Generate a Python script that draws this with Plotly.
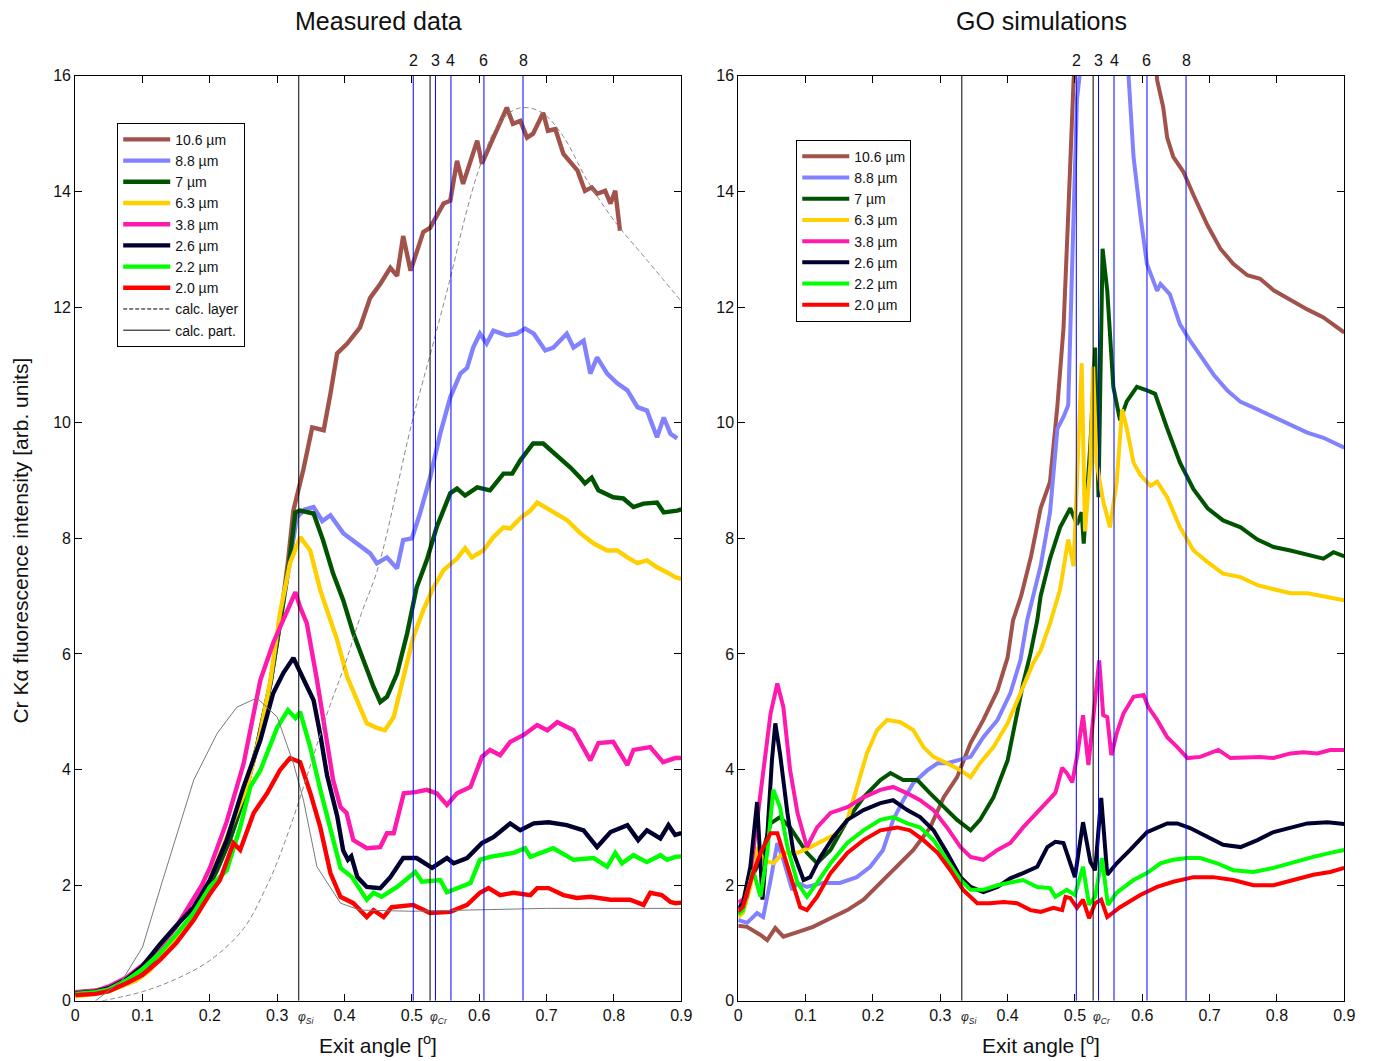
import plotly.graph_objects as go

# ---------------- data: measured (left panel) ----------------
brown_L_x = [0, 0.03, 0.05, 0.07, 0.09, 0.11, 0.13, 0.15, 0.17, 0.19, 0.21, 0.23, 0.25, 0.27, 0.29, 0.305, 0.316, 0.324, 0.339, 0.352, 0.369, 0.379, 0.389, 0.404, 0.423, 0.438, 0.453, 0.468, 0.478, 0.487, 0.498, 0.517, 0.527, 0.547, 0.557, 0.567, 0.576, 0.597, 0.604, 0.621, 0.641, 0.65, 0.661, 0.671, 0.68, 0.695, 0.702, 0.713, 0.725, 0.746, 0.757, 0.767, 0.775, 0.787, 0.795, 0.802, 0.809]
brown_L_y = [0.15, 0.18, 0.22, 0.33, 0.36, 0.58, 0.82, 1.1, 1.42, 1.8, 2.25, 2.8, 3.5, 4.4, 5.5, 6.6, 7.6, 8.48, 9.2, 9.92, 9.87, 10.5, 11.2, 11.37, 11.65, 12.16, 12.4, 12.68, 12.54, 13.23, 12.63, 13.3, 13.37, 13.79, 13.84, 14.53, 14.13, 14.88, 14.48, 14.93, 15.45, 15.17, 15.22, 14.93, 15.0, 15.36, 15.05, 15.08, 14.65, 14.36, 14.01, 14.07, 13.96, 14.01, 13.79, 14.01, 13.32]

lblue_L_x = [0, 0.03, 0.05, 0.07, 0.09, 0.11, 0.13, 0.15, 0.17, 0.19, 0.21, 0.23, 0.25, 0.27, 0.29, 0.305, 0.318, 0.329, 0.341, 0.354, 0.367, 0.379, 0.398, 0.418, 0.438, 0.448, 0.463, 0.478, 0.487, 0.5, 0.512, 0.527, 0.542, 0.557, 0.572, 0.582, 0.591, 0.601, 0.611, 0.621, 0.641, 0.656, 0.668, 0.681, 0.698, 0.71, 0.73, 0.74, 0.755, 0.765, 0.775, 0.79, 0.805, 0.82, 0.835, 0.849, 0.864, 0.874, 0.884, 0.894]
lblue_L_y = [0.13, 0.16, 0.2, 0.27, 0.36, 0.55, 0.8, 1.1, 1.42, 1.8, 2.25, 2.8, 3.5, 4.4, 5.5, 6.6, 7.6, 8.36, 8.5, 8.54, 8.3, 8.4, 8.09, 7.91, 7.74, 7.57, 7.67, 7.48, 7.97, 8.0, 8.43, 9.05, 9.81, 10.44, 10.85, 10.95, 11.3, 11.54, 11.37, 11.59, 11.51, 11.54, 11.63, 11.54, 11.25, 11.3, 11.54, 11.3, 11.42, 10.85, 11.13, 10.85, 10.68, 10.56, 10.27, 10.21, 9.75, 10.09, 9.81, 9.73]

dgreen_L_x = [0, 0.03, 0.05, 0.07, 0.09, 0.11, 0.13, 0.15, 0.17, 0.19, 0.21, 0.23, 0.25, 0.27, 0.29, 0.305, 0.318, 0.327, 0.334, 0.354, 0.368, 0.383, 0.398, 0.413, 0.428, 0.443, 0.453, 0.463, 0.478, 0.493, 0.507, 0.522, 0.537, 0.557, 0.567, 0.579, 0.597, 0.616, 0.636, 0.649, 0.661, 0.68, 0.695, 0.716, 0.735, 0.75, 0.757, 0.767, 0.777, 0.799, 0.814, 0.829, 0.844, 0.864, 0.874, 0.894, 0.9]
dgreen_L_y = [0.12, 0.15, 0.2, 0.27, 0.36, 0.55, 0.8, 1.1, 1.42, 1.8, 2.25, 2.8, 3.5, 4.4, 5.5, 6.6, 7.6, 8.45, 8.48, 8.43, 7.97, 7.39, 6.93, 6.36, 5.89, 5.43, 5.17, 5.26, 5.66, 6.36, 7.15, 7.62, 8.2, 8.78, 8.86, 8.74, 8.88, 8.83, 9.12, 9.12, 9.35, 9.64, 9.64, 9.43, 9.23, 9.05, 8.95, 9.05, 8.83, 8.71, 8.69, 8.54, 8.6, 8.62, 8.45, 8.48, 8.5]

yellow_L_x = [0, 0.03, 0.05, 0.07, 0.09, 0.11, 0.13, 0.15, 0.17, 0.19, 0.21, 0.225, 0.24, 0.255, 0.275, 0.29, 0.304, 0.319, 0.334, 0.349, 0.364, 0.379, 0.389, 0.404, 0.418, 0.433, 0.448, 0.46, 0.473, 0.488, 0.502, 0.517, 0.532, 0.547, 0.567, 0.579, 0.589, 0.606, 0.621, 0.636, 0.646, 0.661, 0.676, 0.686, 0.701, 0.716, 0.731, 0.75, 0.77, 0.79, 0.805, 0.82, 0.835, 0.849, 0.864, 0.879, 0.891, 0.9]
yellow_L_y = [0.08, 0.12, 0.17, 0.25, 0.35, 0.52, 0.78, 1.08, 1.4, 1.8, 2.4, 2.85, 3.3, 3.7, 4.63, 5.55, 6.7, 7.57, 8.02, 7.79, 7.1, 6.55, 6.24, 5.6, 5.2, 4.8, 4.72, 4.68, 4.91, 5.6, 6.29, 6.76, 7.15, 7.45, 7.65, 7.83, 7.67, 7.79, 8.02, 8.19, 8.17, 8.35, 8.48, 8.62, 8.52, 8.43, 8.31, 8.09, 7.91, 7.79, 7.79, 7.67, 7.57, 7.62, 7.5, 7.41, 7.33, 7.3]

pink_L_x = [0, 0.03, 0.05, 0.077, 0.1, 0.126, 0.15, 0.176, 0.188, 0.2, 0.225, 0.25, 0.275, 0.294, 0.314, 0.327, 0.334, 0.344, 0.359, 0.374, 0.383, 0.394, 0.403, 0.413, 0.433, 0.453, 0.463, 0.473, 0.488, 0.505, 0.522, 0.537, 0.552, 0.567, 0.587, 0.604, 0.616, 0.631, 0.646, 0.666, 0.686, 0.701, 0.716, 0.74, 0.765, 0.777, 0.799, 0.82, 0.829, 0.854, 0.873, 0.891, 0.9]
pink_L_y = [0.14, 0.17, 0.25, 0.41, 0.62, 0.93, 1.28, 1.75, 2.0, 2.3, 3.1, 4.1, 5.55, 6.19, 6.7, 7.07, 6.81, 6.53, 5.55, 4.39, 3.82, 3.35, 3.25, 2.78, 2.64, 2.66, 2.9, 2.9, 3.59, 3.61, 3.65, 3.59, 3.39, 3.59, 3.7, 4.22, 4.34, 4.25, 4.48, 4.6, 4.77, 4.68, 4.82, 4.68, 4.16, 4.46, 4.48, 4.08, 4.34, 4.39, 4.13, 4.2, 4.2]

navy_L_x = [0, 0.03, 0.05, 0.077, 0.1, 0.126, 0.15, 0.176, 0.2, 0.225, 0.25, 0.275, 0.294, 0.309, 0.324, 0.339, 0.354, 0.364, 0.374, 0.389, 0.398, 0.405, 0.41, 0.419, 0.433, 0.453, 0.468, 0.487, 0.507, 0.53, 0.552, 0.562, 0.582, 0.604, 0.621, 0.646, 0.661, 0.681, 0.703, 0.73, 0.755, 0.775, 0.795, 0.82, 0.836, 0.849, 0.869, 0.881, 0.891, 0.9]
navy_L_y = [0.13, 0.16, 0.22, 0.38, 0.6, 0.98, 1.3, 1.62, 2.09, 2.78, 3.7, 4.51, 5.32, 5.67, 5.93, 5.55, 5.2, 4.6, 3.9, 3.2, 2.6, 2.44, 2.5, 2.14, 1.97, 1.95, 2.14, 2.47, 2.47, 2.3, 2.47, 2.38, 2.47, 2.73, 2.83, 3.07, 2.95, 3.07, 3.09, 3.04, 2.95, 2.66, 2.92, 3.04, 2.78, 2.95, 2.81, 3.04, 2.87, 2.9]

lime_L_x = [0, 0.03, 0.05, 0.077, 0.1, 0.126, 0.15, 0.176, 0.2, 0.225, 0.245, 0.26, 0.275, 0.3, 0.316, 0.327, 0.334, 0.349, 0.364, 0.374, 0.394, 0.411, 0.433, 0.443, 0.455, 0.478, 0.505, 0.515, 0.542, 0.552, 0.587, 0.601, 0.616, 0.651, 0.668, 0.676, 0.71, 0.74, 0.77, 0.79, 0.802, 0.812, 0.829, 0.849, 0.869, 0.879, 0.891, 0.9]
lime_L_y = [0.12, 0.15, 0.2, 0.36, 0.55, 0.83, 1.15, 1.52, 1.97, 2.26, 3.0, 3.7, 3.99, 4.73, 5.03, 4.89, 5.0, 4.39, 3.65, 3.2, 2.3, 2.14, 1.75, 1.87, 1.8, 1.97, 2.23, 2.06, 2.09, 1.88, 2.04, 2.44, 2.49, 2.56, 2.64, 2.49, 2.64, 2.44, 2.47, 2.32, 2.56, 2.38, 2.52, 2.4, 2.52, 2.44, 2.49, 2.5]

red_L_x = [0, 0.03, 0.05, 0.077, 0.1, 0.126, 0.15, 0.176, 0.2, 0.215, 0.235, 0.245, 0.265, 0.285, 0.304, 0.319, 0.334, 0.349, 0.364, 0.379, 0.394, 0.413, 0.433, 0.443, 0.458, 0.47, 0.502, 0.527, 0.557, 0.582, 0.601, 0.614, 0.631, 0.651, 0.676, 0.686, 0.703, 0.725, 0.745, 0.765, 0.795, 0.824, 0.844, 0.854, 0.871, 0.884, 0.891, 0.9]
red_L_y = [0.1, 0.12, 0.17, 0.31, 0.45, 0.71, 1.0, 1.4, 1.85, 2.09, 2.73, 2.61, 3.25, 3.59, 3.99, 4.2, 4.13, 3.6, 3.0, 2.21, 1.8, 1.69, 1.45, 1.57, 1.45, 1.62, 1.66, 1.52, 1.54, 1.66, 1.87, 1.95, 1.83, 1.87, 1.83, 1.95, 1.95, 1.83, 1.78, 1.8, 1.75, 1.75, 1.66, 1.87, 1.83, 1.71, 1.69, 1.7]

calc_layer_x = [0.04, 0.1, 0.15, 0.2, 0.25, 0.285, 0.3, 0.325, 0.35, 0.375, 0.4, 0.425, 0.45, 0.5, 0.53, 0.557, 0.58, 0.6, 0.625, 0.65, 0.67, 0.695, 0.725, 0.76, 0.8, 0.85, 0.9]
calc_layer_y = [0.0, 0.16, 0.38, 0.7, 1.25, 2.0, 2.4, 3.2, 4.1, 5.0, 5.8, 6.7, 7.5, 10.0, 11.3, 12.5, 13.6, 14.4, 15.1, 15.4, 15.45, 15.35, 14.95, 14.2, 13.5, 12.8, 12.1]
calc_part_x = [0.03, 0.07, 0.1, 0.13, 0.176, 0.211, 0.24, 0.27, 0.3, 0.324, 0.339, 0.359, 0.394, 0.423, 0.5, 0.6, 0.7, 0.9]
calc_part_y = [0.0, 0.36, 0.93, 2.09, 3.82, 4.63, 5.08, 5.24, 4.91, 4.11, 3.47, 2.32, 1.69, 1.57, 1.55, 1.58, 1.6, 1.6]

# ---------------- data: GO simulations (right panel) ----------------
brown_R_x = [0, 0.013, 0.033, 0.043, 0.055, 0.067, 0.088, 0.111, 0.137, 0.162, 0.186, 0.211, 0.236, 0.26, 0.285, 0.305, 0.325, 0.345, 0.364, 0.385, 0.4, 0.408, 0.42, 0.435, 0.449, 0.463, 0.474, 0.483, 0.49, 0.498, 0.502, None, 0.62, 0.622, 0.631, 0.637, 0.646, 0.661, 0.676, 0.697, 0.716, 0.735, 0.756, 0.775, 0.795, 0.824, 0.845, 0.869, 0.884, 0.9]
brown_R_y = [1.3, 1.28, 1.14, 1.05, 1.26, 1.11, 1.19, 1.28, 1.43, 1.57, 1.75, 2.04, 2.35, 2.61, 3.0, 3.52, 3.87, 4.46, 4.86, 5.37, 5.94, 6.58, 7.0, 7.7, 8.52, 8.98, 10.3, 11.63, 13.6, 15.93, 16.5, None, 16.3, 15.93, 15.46, 14.93, 14.6, 14.34, 13.94, 13.41, 13.01, 12.75, 12.55, 12.49, 12.29, 12.09, 11.96, 11.82, 11.7, 11.56]

lblue_R_x = [0, 0.013, 0.028, 0.037, 0.048, 0.058, 0.067, 0.08, 0.088, 0.102, 0.126, 0.151, 0.176, 0.196, 0.215, 0.23, 0.245, 0.26, 0.281, 0.296, 0.31, 0.327, 0.345, 0.364, 0.385, 0.404, 0.419, 0.429, 0.449, 0.463, 0.474, 0.483, 0.49, 0.498, 0.503, 0.51, None, 0.578, 0.58, 0.587, 0.597, 0.607, 0.622, 0.627, 0.641, 0.656, 0.671, 0.686, 0.706, 0.726, 0.746, 0.771, 0.795, 0.82, 0.845, 0.869, 0.9]
lblue_R_y = [1.4, 1.35, 1.52, 1.45, 2.09, 2.73, 2.44, 1.92, 2.04, 1.97, 2.04, 2.04, 2.14, 2.32, 2.61, 3.13, 3.47, 3.77, 3.99, 4.11, 4.11, 4.16, 4.22, 4.56, 4.86, 5.32, 5.89, 6.58, 7.52, 8.45, 9.9, 10.1, 10.3, 13.6, 15.6, 16.3, None, 16.3, 15.93, 14.6, 13.6, 12.74, 12.28, 12.4, 12.22, 11.7, 11.42, 11.16, 10.83, 10.56, 10.36, 10.23, 10.1, 9.97, 9.83, 9.74, 9.57]

dgreen_R_x = [0, 0.007, 0.018, 0.033, 0.048, 0.062, 0.077, 0.102, 0.117, 0.137, 0.162, 0.186, 0.211, 0.226, 0.245, 0.266, 0.285, 0.305, 0.325, 0.345, 0.359, 0.379, 0.4, 0.414, 0.423, 0.434, 0.444, 0.449, 0.463, 0.478, 0.493, 0.503, 0.51, 0.513, 0.523, 0.53, 0.535, 0.541, 0.548, 0.557, 0.567, 0.577, 0.592, 0.607, 0.619, 0.637, 0.656, 0.676, 0.697, 0.72, 0.746, 0.771, 0.795, 0.82, 0.845, 0.869, 0.884, 0.9]
dgreen_R_y = [1.5, 1.57, 2.09, 2.44, 3.07, 3.18, 3.0, 2.56, 2.38, 2.61, 3.13, 3.52, 3.82, 3.94, 3.82, 3.82, 3.59, 3.35, 3.13, 2.95, 3.13, 3.52, 4.16, 4.97, 5.49, 6.01, 6.58, 7.0, 7.65, 8.19, 8.52, 8.24, 8.45, 7.91, 9.64, 11.3, 8.71, 13.01, 12.28, 10.62, 10.04, 10.37, 10.62, 10.56, 10.5, 9.9, 9.31, 8.85, 8.52, 8.31, 8.19, 7.98, 7.85, 7.79, 7.72, 7.65, 7.76, 7.69]

yellow_R_x = [0, 0.007, 0.018, 0.028, 0.037, 0.052, 0.067, 0.088, 0.107, 0.126, 0.147, 0.162, 0.176, 0.191, 0.206, 0.221, 0.241, 0.26, 0.275, 0.29, 0.31, 0.33, 0.345, 0.359, 0.379, 0.4, 0.419, 0.438, 0.449, 0.463, 0.478, 0.49, 0.498, 0.503, 0.51, 0.515, 0.523, 0.527, 0.532, 0.542, 0.552, 0.562, 0.57, 0.577, 0.587, 0.597, 0.612, 0.622, 0.637, 0.656, 0.676, 0.697, 0.72, 0.746, 0.771, 0.795, 0.82, 0.845, 0.869, 0.9]
yellow_R_y = [1.45, 1.52, 1.97, 2.66, 2.44, 2.38, 2.56, 2.56, 2.66, 2.78, 2.9, 3.13, 3.7, 4.28, 4.68, 4.86, 4.82, 4.68, 4.39, 4.22, 4.11, 3.99, 3.87, 4.11, 4.39, 4.8, 5.32, 5.84, 6.06, 6.53, 7.12, 7.98, 7.52, 8.98, 11.03, 8.12, 9.31, 10.97, 9.31, 8.64, 8.19, 8.98, 10.23, 9.9, 9.31, 9.1, 8.91, 8.98, 8.71, 8.19, 7.79, 7.59, 7.39, 7.33, 7.19, 7.12, 7.05, 7.05, 7.0, 6.93]

pink_R_x = [0, 0.013, 0.022, 0.037, 0.048, 0.058, 0.067, 0.077, 0.088, 0.102, 0.117, 0.137, 0.162, 0.186, 0.211, 0.23, 0.251, 0.27, 0.29, 0.31, 0.33, 0.345, 0.364, 0.385, 0.404, 0.423, 0.444, 0.463, 0.471, 0.481, 0.488, 0.496, 0.503, 0.512, 0.52, 0.527, 0.536, 0.542, 0.548, 0.554, 0.562, 0.572, 0.587, 0.602, 0.609, 0.622, 0.637, 0.652, 0.667, 0.686, 0.713, 0.731, 0.756, 0.775, 0.795, 0.82, 0.839, 0.86, 0.879, 0.9]
pink_R_y = [1.7, 1.8, 2.56, 3.99, 4.97, 5.49, 5.08, 3.99, 3.25, 2.66, 3.0, 3.25, 3.35, 3.52, 3.65, 3.7, 3.59, 3.47, 3.3, 3.0, 2.66, 2.49, 2.44, 2.61, 2.73, 3.0, 3.25, 3.5, 3.6, 4.03, 3.94, 3.78, 4.22, 4.94, 4.08, 4.91, 5.89, 4.94, 4.91, 4.25, 4.63, 4.97, 5.26, 5.29, 5.08, 4.86, 4.56, 4.39, 4.2, 4.22, 4.34, 4.2, 4.22, 4.22, 4.2, 4.28, 4.3, 4.28, 4.34, 4.34]

navy_R_x = [0, 0.007, 0.018, 0.028, 0.036, 0.043, 0.05, 0.055, 0.062, 0.073, 0.082, 0.097, 0.107, 0.122, 0.141, 0.162, 0.186, 0.211, 0.23, 0.251, 0.27, 0.29, 0.31, 0.33, 0.345, 0.364, 0.385, 0.404, 0.423, 0.444, 0.459, 0.471, 0.483, 0.5, 0.512, 0.523, 0.53, 0.539, 0.548, 0.562, 0.582, 0.607, 0.637, 0.652, 0.671, 0.697, 0.72, 0.746, 0.771, 0.795, 0.82, 0.845, 0.875, 0.9]
navy_R_y = [1.6, 1.69, 2.32, 3.44, 1.75, 2.83, 4.16, 4.8, 4.28, 3.25, 2.56, 2.09, 2.14, 2.49, 2.83, 3.13, 3.3, 3.42, 3.47, 3.3, 3.18, 2.95, 2.56, 2.14, 1.97, 1.88, 1.97, 2.12, 2.21, 2.32, 2.66, 2.75, 2.73, 2.14, 3.09, 2.4, 2.26, 3.51, 2.18, 2.38, 2.61, 2.92, 3.07, 3.07, 2.99, 2.83, 2.7, 2.66, 2.78, 2.92, 3.0, 3.07, 3.09, 3.06]

lime_R_x = [0, 0.007, 0.022, 0.033, 0.043, 0.052, 0.062, 0.073, 0.088, 0.102, 0.117, 0.137, 0.162, 0.186, 0.211, 0.23, 0.251, 0.27, 0.29, 0.31, 0.33, 0.345, 0.364, 0.385, 0.404, 0.423, 0.444, 0.463, 0.471, 0.488, 0.5, 0.512, 0.521, 0.53, 0.54, 0.549, 0.562, 0.587, 0.607, 0.627, 0.646, 0.667, 0.686, 0.711, 0.735, 0.765, 0.795, 0.824, 0.854, 0.879, 0.9]
lime_R_y = [1.5, 1.57, 2.26, 1.8, 2.56, 3.65, 3.35, 2.66, 2.04, 1.8, 2.04, 2.38, 2.73, 2.95, 3.13, 3.18, 3.07, 3.0, 2.78, 2.44, 2.09, 1.92, 1.92, 2.0, 2.04, 2.09, 1.97, 1.95, 1.8, 1.92, 1.83, 2.32, 1.66, 1.8, 2.47, 1.66, 1.87, 2.09, 2.21, 2.38, 2.44, 2.47, 2.47, 2.38, 2.26, 2.23, 2.3, 2.4, 2.49, 2.56, 2.61]

red_R_x = [0, 0.007, 0.022, 0.033, 0.048, 0.058, 0.067, 0.082, 0.092, 0.102, 0.117, 0.137, 0.162, 0.186, 0.211, 0.236, 0.255, 0.275, 0.296, 0.315, 0.334, 0.355, 0.374, 0.394, 0.414, 0.434, 0.449, 0.468, 0.481, 0.486, 0.493, 0.503, 0.512, 0.521, 0.53, 0.539, 0.548, 0.567, 0.597, 0.622, 0.646, 0.676, 0.705, 0.735, 0.765, 0.795, 0.824, 0.854, 0.879, 0.9]
red_R_y = [1.55, 1.63, 2.21, 2.56, 2.9, 2.9, 2.56, 1.97, 1.62, 1.57, 1.8, 2.21, 2.56, 2.78, 2.95, 3.0, 2.95, 2.78, 2.56, 2.26, 1.92, 1.69, 1.69, 1.71, 1.69, 1.57, 1.54, 1.61, 1.57, 1.8, 1.78, 1.61, 1.75, 1.43, 1.69, 1.75, 1.45, 1.62, 1.83, 1.97, 2.06, 2.14, 2.14, 2.09, 2.0, 2.0, 2.09, 2.18, 2.23, 2.3]

labels = ["10.6 µm", "8.8 µm", "7 µm", "6.3 µm", "3.8 µm", "2.6 µm", "2.2 µm", "2.0 µm"]
colors = ["#A0524B", "#8282FF", "#005400", "#FFD000", "#FF1AAE", "#00002E", "#00FF00", "#FF0000"]

left_series = [(brown_L_x, brown_L_y), (lblue_L_x, lblue_L_y), (dgreen_L_x, dgreen_L_y), (yellow_L_x, yellow_L_y),
               (pink_L_x, pink_L_y), (navy_L_x, navy_L_y), (lime_L_x, lime_L_y), (red_L_x, red_L_y)]
right_series = [(brown_R_x, brown_R_y), (lblue_R_x, lblue_R_y), (dgreen_R_x, dgreen_R_y), (yellow_R_x, yellow_R_y),
                (pink_R_x, pink_R_y), (navy_R_x, navy_R_y), (lime_R_x, lime_R_y), (red_R_x, red_R_y)]

angle_lines_blue = [0.502, 0.535, 0.558, 0.607, 0.665]
angle_labels_blue = ["2", "3", "4", "6", "8"]
angle_lines_black = [0.332, 0.527]
x_ticks = [0, 0.1, 0.2, 0.3, 0.4, 0.5, 0.6, 0.7, 0.8, 0.9]
x_ticklabels = ["0", "0.1", "0.2", "0.3", "0.4", "0.5", "0.6", "0.7", "0.8", "0.9"]
y_ticks = [0, 2, 4, 6, 8, 10, 12, 14, 16]

FONT = "Liberation Sans, Arial, sans-serif"
W, H = 1373, 1061

# the photographed page is slightly scaled/offset; map intended screen pixels to paper coords
SX, BX = 0.989, 3.8
SY, BY = 0.985, 7.1


def px(p):
    return (p - BX) / SX / W


def py(p):
    return 1 - (p - BY) / SY / H


fig = go.Figure()

for i, (lab, col) in enumerate(zip(labels, colors)):
    xs, ys = left_series[i]
    fig.add_trace(go.Scatter(x=xs, y=ys, mode="lines", name=lab, line=dict(color=col, width=4.4),
                             xaxis="x", yaxis="y", legend="legend", legendgroup="L%d" % i))

# calc curves (drawn gray) + black legend samples
fig.add_trace(go.Scatter(x=calc_layer_x, y=calc_layer_y, mode="lines", showlegend=False,
                         line=dict(color="#8a8a8a", width=1, dash="5px,3px", shape="spline"), xaxis="x", yaxis="y"))
fig.add_trace(go.Scatter(x=calc_part_x, y=calc_part_y, mode="lines", showlegend=False,
                         line=dict(color="#7a7a7a", width=1), xaxis="x", yaxis="y"))
fig.add_trace(go.Scatter(x=[None], y=[None], mode="lines", name="calc. layer",
                         line=dict(color="black", width=1, dash="4px,2px"), xaxis="x", yaxis="y",
                         legend="legend", legendgroup="L8"))
fig.add_trace(go.Scatter(x=[None], y=[None], mode="lines", name="calc. part.",
                         line=dict(color="black", width=1), xaxis="x", yaxis="y",
                         legend="legend", legendgroup="L9"))

for i, (lab, col) in enumerate(zip(labels, colors)):
    xs, ys = right_series[i]
    fig.add_trace(go.Scatter(x=xs, y=ys, mode="lines", name=lab, line=dict(color=col, width=4),
                             xaxis="x2", yaxis="y2", legend="legend2", legendgroup="R%d" % i,
                             connectgaps=False))

dom_L = [px(75), px(681)]
dom_R = [px(738), px(1344)]
dom_Y = [py(1001), py(75)]

axis_common = dict(range=[0, 0.9], tickvals=x_ticks, ticktext=x_ticklabels, ticks="inside", ticklen=7,
                   tickcolor="black", showline=True, linecolor="black", linewidth=1, mirror="ticks",
                   showgrid=False, zeroline=False, tickfont=dict(family=FONT, size=16, color="#111"))
yaxis_common = dict(range=[0, 16], tickvals=y_ticks, ticks="inside", ticklen=7, tickcolor="black",
                    showline=True, linecolor="black", linewidth=1, mirror="ticks", showgrid=False,
                    zeroline=False, tickfont=dict(family=FONT, size=16, color="#111"), domain=dom_Y)

shapes = []
for xr, yr in (("x", "y"), ("x2", "y2")):
    for xv in angle_lines_black:
        shapes.append(dict(type="line", xref=xr, yref=yr, x0=xv, x1=xv, y0=0, y1=16,
                           line=dict(color="black", width=1), layer="above"))
    for xv in angle_lines_blue:
        shapes.append(dict(type="line", xref=xr, yref=yr, x0=xv, x1=xv, y0=0, y1=16,
                           line=dict(color="#0000FF", width=1), layer="above"))

annotations = []
for xr, cx in (("x", px(378)), ("x2", px(1041))):
    for xv, t in zip(angle_lines_blue, angle_labels_blue):
        annotations.append(dict(x=xv, xref=xr, y=py(60), yref="paper", text=t, showarrow=False,
                                font=dict(family=FONT, size=16, color="#111"), xanchor="center", yanchor="middle"))
    annotations.append(dict(x=0.343, xref=xr, y=py(1018), yref="paper", text="<i>φ<sub>Si</sub></i>",
                            showarrow=False, font=dict(family=FONT, size=12, color="#222"),
                            xanchor="center", yanchor="middle"))
    annotations.append(dict(x=0.540, xref=xr, y=py(1018), yref="paper", text="<i>φ<sub>Cr</sub></i>",
                            showarrow=False, font=dict(family=FONT, size=12, color="#222"),
                            xanchor="center", yanchor="middle"))
    annotations.append(dict(x=cx, xref="paper", y=py(1044), yref="paper", text="Exit angle [<sup>o</sup>]",
                            showarrow=False, font=dict(family=FONT, size=21, color="#111"),
                            xanchor="center", yanchor="middle"))

annotations.append(dict(x=px(378), xref="paper", y=py(20), yref="paper",
                        text="Measured data", showarrow=False, font=dict(family=FONT, size=25, color="#111"),
                        xanchor="center", yanchor="middle"))
annotations.append(dict(x=px(1041), xref="paper", y=py(20), yref="paper",
                        text="GO simulations", showarrow=False, font=dict(family=FONT, size=25, color="#111"),
                        xanchor="center", yanchor="middle"))
annotations.append(dict(x=px(20), xref="paper", y=py(540), yref="paper", textangle=-90,
                        text="Cr Kα fluorescence intensity [arb. units]", showarrow=False,
                        font=dict(family=FONT, size=21, color="#111"), xanchor="center", yanchor="middle"))

legend_common = dict(bgcolor="white", bordercolor="black", borderwidth=1, itemwidth=47,
                     font=dict(family=FONT, size=14, color="#111"), tracegroupgap=0,
                     xanchor="left", yanchor="top", itemclick=False)

fig.update_layout(
    width=W, height=H, autosize=False,
    margin=dict(l=0, r=0, t=0, b=0),
    paper_bgcolor="white", plot_bgcolor="white",
    xaxis=dict(domain=dom_L, anchor="y", **axis_common),
    yaxis=dict(anchor="x", **yaxis_common),
    xaxis2=dict(domain=dom_R, anchor="y2", **axis_common),
    yaxis2=dict(anchor="x2", **yaxis_common),
    legend=dict(x=px(117), y=py(122), **legend_common),
    legend2=dict(x=px(796), y=py(139), **legend_common),
    shapes=shapes, annotations=annotations, showlegend=True,
)

fig.write_html("out.html", config={"displayModeBar": False},
               post_script="document.body.style.margin='0';document.body.style.overflow='hidden';")
